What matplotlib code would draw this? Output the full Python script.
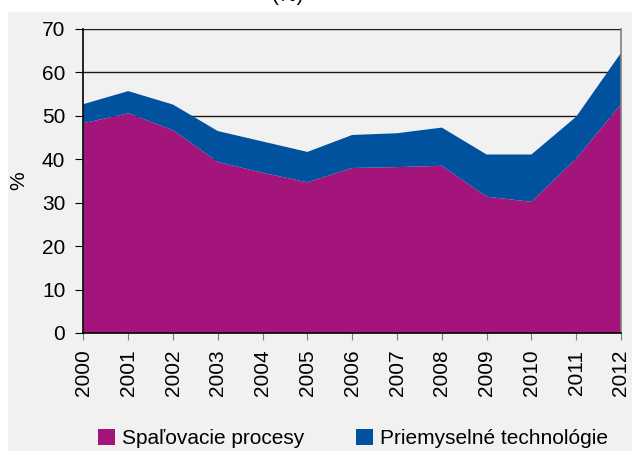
import matplotlib.pyplot as plt
from matplotlib.patches import Rectangle, Patch
import numpy as np

plt.rcParams['font.family'] = ['Liberation Sans', 'DejaVu Sans']

# data
roky = ['2000', '2001', '2002', '2003', '2004', '2005', '2006',
        '2007', '2008', '2009', '2010', '2011', '2012']
spalovanie = [48.3, 50.6, 46.7, 39.4, 36.9, 34.7, 38.0, 38.2, 38.5, 31.4, 30.2, 40.2, 52.7]
priemysel = [4.4, 5.1, 5.9, 7.1, 7.2, 7.0, 7.6, 7.8, 8.8, 9.7, 10.9, 9.6, 11.8]
nazvy = ['Spaľovacie procesy', 'Priemyselné technológie']
farby = ['#A4157C', '#00519E']
bg = '#F1F1F1'

fig = plt.figure(figsize=(6.32, 4.51), dpi=100)
fig.patch.set_facecolor('white')
fig.patches.append(Rectangle((8 / 632, 0), 1 - 8 / 632, 1 - 12 / 451,
                             transform=fig.transFigure, facecolor=bg,
                             edgecolor='none', zorder=-5))
fig.text(0.455, 1.01, '(%)', ha='center', va='center', fontsize=15)

ax = fig.add_axes([83.4 / 632, 1 - 333 / 451, (621 - 83.4) / 632, (333 - 29) / 451])
ax.set_facecolor('none')

x = np.arange(len(roky))
ax.stackplot(x, spalovanie, priemysel, colors=farby, linewidth=0, zorder=2)

ax.set_xlim(0, len(roky) - 1)
ax.set_ylim(0, 70)
ax.set_yticks(range(0, 71, 10))
ax.set_xticks(x)
ax.set_xticklabels(roky, rotation=90, fontsize=15)
ax.tick_params(axis='y', labelsize=15, length=6, color='black', pad=7)
ax.tick_params(axis='x', length=5, color='#808080', pad=7)
ax.set_ylabel('%', fontsize=15)
ax.yaxis.set_label_coords(-0.103, 0.5)

for v in range(10, 71, 10):
    ax.axhline(v, color='#1a1a1a', lw=1.0, zorder=1)

for s in ['left', 'bottom']:
    ax.spines[s].set_color('black')
    ax.spines[s].set_linewidth(1.2)
ax.spines['top'].set_visible(False)
ax.spines['right'].set_color('#808080')
ax.spines['right'].set_linewidth(1.2)
for s in ax.spines.values():
    s.set_zorder(3)

handles = [Patch(facecolor=c, edgecolor='none') for c in farby]
fig.legend(handles, nazvy, loc='center', bbox_to_anchor=(0.559, 0.027), ncol=2,
           frameon=False, fontsize=15, handlelength=0.8, handleheight=0.8,
           handletextpad=0.35, columnspacing=2.5)

plt.savefig('out.png', dpi=100)
